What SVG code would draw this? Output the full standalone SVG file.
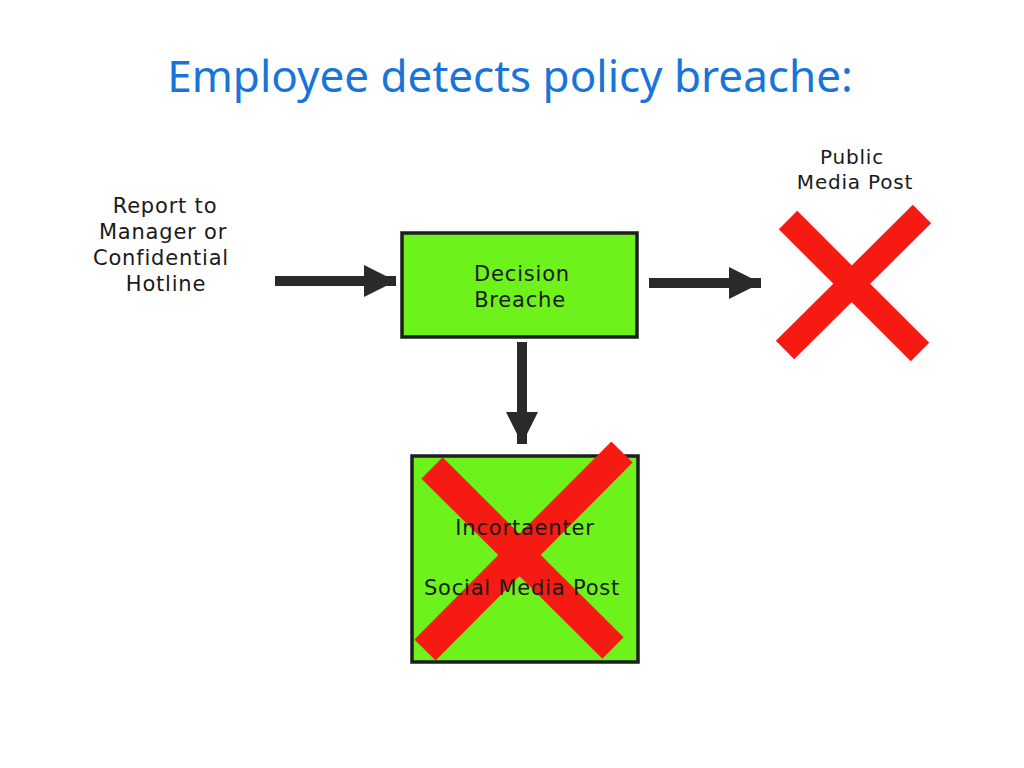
<svg xmlns="http://www.w3.org/2000/svg" width="1024" height="768" viewBox="0 0 1024 768">
<style>
.t{font-family:"DejaVu Sans","Noto Sans",sans-serif;fill:#1a1a1a;text-anchor:middle;font-size:21px;letter-spacing:0.8px}
.box{fill:#6ef21c;stroke:#1e1e1e;stroke-width:3.5}
.x{stroke:#f51b12;stroke-linecap:butt}
.c{stroke:#2a2a2a;stroke-width:10;fill:none}
</style>
<defs>
<marker id="ah" viewBox="0 0 10 10" refX="10" refY="5" markerWidth="3.8" markerHeight="3.2" markerUnits="strokeWidth" orient="auto"><path d="M0,0 L10,5 L0,10 Z" fill="#2a2a2a"/></marker>
</defs>
<rect width="1024" height="768" fill="#fff"/>
<text x="510" y="92" style="font-family:'Noto Sans','DejaVu Sans',sans-serif;font-size:44px;fill:#1874d8;text-anchor:middle">Employee detects policy breache:</text>
<g id="report">
<text class="t" x="165" y="213">Report to</text>
<text class="t" x="163" y="239">Manager or</text>
<text class="t" x="161" y="265">Confidential</text>
<text class="t" x="166" y="291">Hotline</text>
</g>
<g id="decision">
<rect class="box" x="402" y="233" width="235" height="104"/>
<text class="t" x="522" y="281">Decision</text>
<text class="t" x="520" y="307">Breache</text>
</g>
<g id="public">
<text class="t" x="852" y="164" style="font-size:20px">Public</text>
<text class="t" x="855" y="189" style="font-size:20px">Media Post</text>
<line class="x" x1="788" y1="220" x2="920" y2="352" stroke-width="26"/>
<line class="x" x1="922" y1="214" x2="785" y2="350" stroke-width="26"/>
</g>
<g id="social">
<rect class="box" x="412" y="456" width="226" height="206"/>
<line class="x" x1="432" y1="468" x2="613" y2="648" stroke-width="30"/>
<line class="x" x1="622" y1="452" x2="425" y2="650" stroke-width="30"/>
<text class="t" x="525" y="535">Incortaenter</text>
<text class="t" x="522" y="595">Social Media Post</text>
</g>
<g id="connectors">
<line class="c" x1="275" y1="281" x2="396" y2="281" marker-end="url(#ah)"/>
<line class="c" x1="649" y1="283" x2="761" y2="283" marker-end="url(#ah)"/>
<line class="c" x1="522" y1="342" x2="522" y2="444" marker-end="url(#ah)"/>
</g>
</svg>
